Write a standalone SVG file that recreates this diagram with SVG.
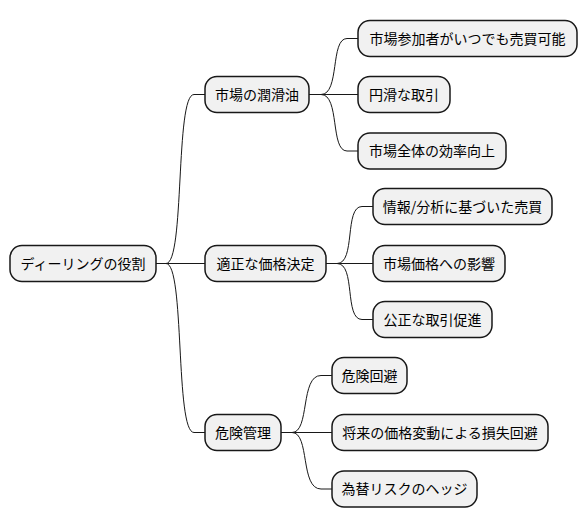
<svg xmlns="http://www.w3.org/2000/svg" width="586" height="527" viewBox="0 0 586 527">
<style>
.n rect{fill:#F1F1F1;stroke:#181818;stroke-width:1.5}
.n text{font-family:"Noto Sans CJK JP","Noto Sans CJK SC",sans-serif;font-size:14px;fill:#000;text-anchor:middle}
.c path{fill:none;stroke:#181818;stroke-width:1}
</style>
<rect width="586" height="527" fill="#fff"/>
<g class="c" id="connectors">
<path d="M156,263.5 L166,263.5 C185,263.5 175,94.5 194,94.5 L205,94.5"/>
<path d="M156,263.5 L205,263.5"/>
<path d="M156,263.5 L166,263.5 C185,263.5 175,432.5 194,432.5 L205,432.5"/>
<path d="M309,94.5 L321,94.5 C340,94.5 330,38.5 347,38.5 L358,38.5"/>
<path d="M309,94.5 L358,94.5"/>
<path d="M309,94.5 L321,94.5 C340,94.5 330,151 347,151 L358,151"/>
<path d="M326,263.5 L337,263.5 C356,263.5 344,206.5 362,206.5 L373,206.5"/>
<path d="M326,263.5 L373,263.5"/>
<path d="M326,263.5 L337,263.5 C356,263.5 344,319.5 362,319.5 L373,319.5"/>
<path d="M281,432.5 L292,432.5 C310,432.5 300,375.5 321,375.5 L332,375.5"/>
<path d="M281,432.5 L332,432.5"/>
<path d="M281,432.5 L292,432.5 C310,432.5 300,489 321,489 L332,489"/>
</g>
<g class="n" id="root"><rect x="10" y="245.5" width="146" height="36" rx="12"/><text x="83" y="268.5">ディーリングの役割</text></g>
<g class="n" id="n1"><rect x="205" y="76.5" width="104" height="36" rx="12"/><text x="257" y="99.5">市場の潤滑油</text></g>
<g class="n" id="n2"><rect x="205" y="245.5" width="121" height="36" rx="12"/><text x="265.5" y="268.5">適正な価格決定</text></g>
<g class="n" id="n3"><rect x="205" y="414.5" width="76" height="36" rx="12"/><text x="243" y="437.5">危険管理</text></g>
<g class="n" id="n1a"><rect x="358" y="20.5" width="219" height="36" rx="12"/><text x="467.5" y="43.5">市場参加者がいつでも売買可能</text></g>
<g class="n" id="n1b"><rect x="358" y="76.5" width="92" height="36" rx="12"/><text x="404" y="99.5">円滑な取引</text></g>
<g class="n" id="n1c"><rect x="358" y="133" width="148" height="36" rx="12"/><text x="432" y="156">市場全体の効率向上</text></g>
<g class="n" id="n2a"><rect x="373" y="188.5" width="179" height="36" rx="12"/><text x="462.5" y="211.5">情報/分析に基づいた売買</text></g>
<g class="n" id="n2b"><rect x="373" y="245.5" width="132" height="36" rx="12"/><text x="439" y="268.5">市場価格への影響</text></g>
<g class="n" id="n2c"><rect x="373" y="301.5" width="119" height="36" rx="12"/><text x="432.5" y="324.5">公正な取引促進</text></g>
<g class="n" id="n3a"><rect x="332" y="357.5" width="75" height="36" rx="12"/><text x="369.5" y="380.5">危険回避</text></g>
<g class="n" id="n3b"><rect x="332" y="414.5" width="216" height="36" rx="12"/><text x="440" y="437.5">将来の価格変動による損失回避</text></g>
<g class="n" id="n3c"><rect x="332" y="471" width="145" height="36" rx="12"/><text x="404.5" y="494">為替リスクのヘッジ</text></g>
</svg>
